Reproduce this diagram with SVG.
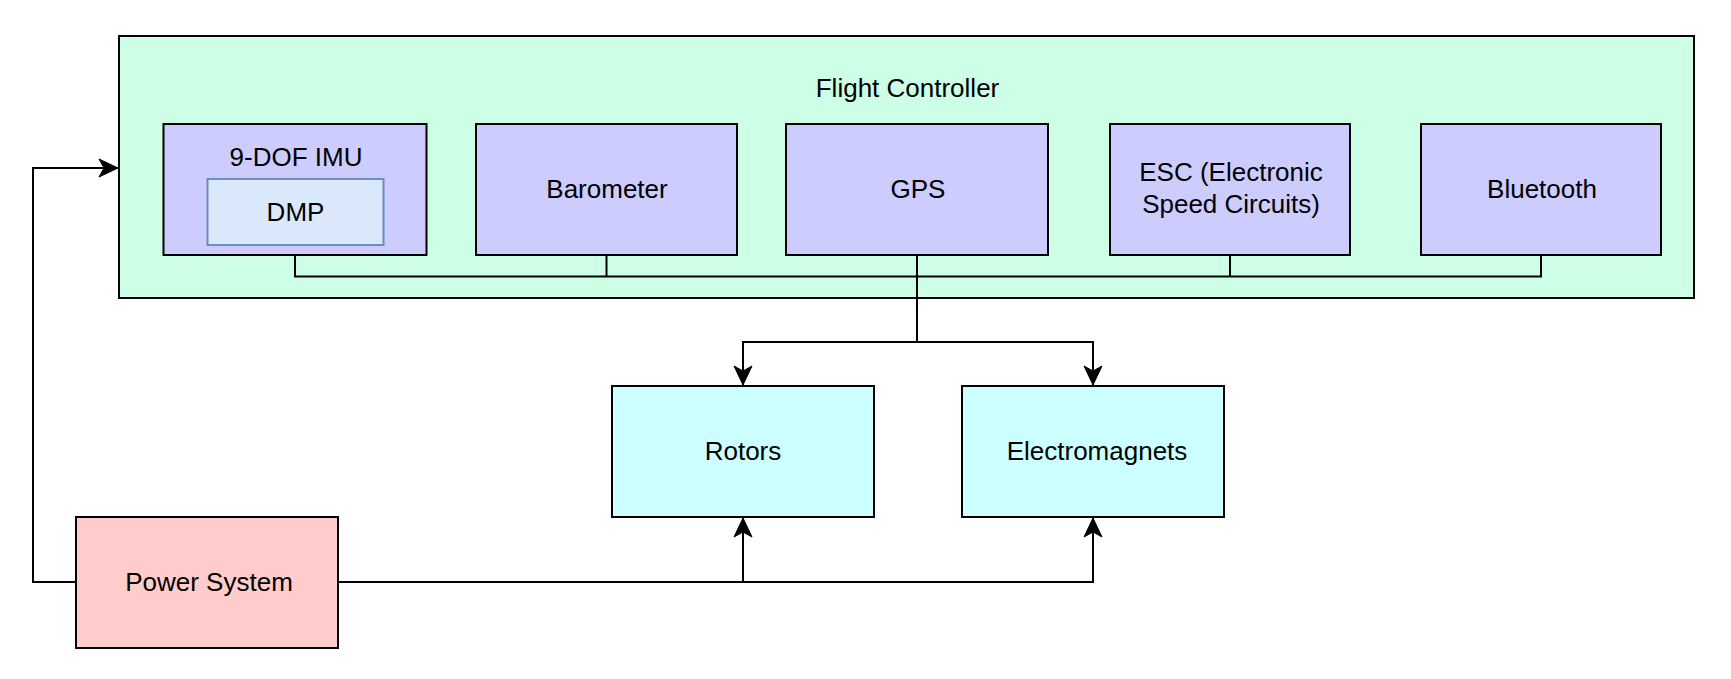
<svg xmlns="http://www.w3.org/2000/svg" width="1731" height="679" viewBox="0 0 1731 679">
<style>
  .box { stroke: #000; stroke-width: 2; }
  .fc { fill: #CCFFE6; }
  .sub { fill: #CCCCFF; }
  .dmp { fill: #DAE8FC; stroke: #6C8EBF; stroke-width: 2; }
  .out { fill: #CCFFFF; }
  .pwr { fill: #FFCCCC; }
  .lbl { font-family: "Liberation Sans", Arial, sans-serif; font-size: 26px; fill: #000; text-anchor: middle; }
  .conn { fill: none; stroke: #000; stroke-width: 2; }
</style>
<defs>
  <marker id="arrow" markerUnits="userSpaceOnUse" markerWidth="24" markerHeight="24" viewBox="-20 -12 24 24" refX="0" refY="0" orient="auto">
    <path d="M0,0 L-19,-9 L-14,0 L-19,9 Z" fill="#000" stroke="#000" stroke-width="1"/>
  </marker>
</defs>
<rect width="1731" height="679" fill="#fff"/>

<g id="flight-controller">
  <rect class="box fc" x="119" y="36" width="1575" height="262"/>
  <text class="lbl" x="907.5" y="97">Flight Controller</text>
</g>

<g id="imu">
  <rect class="box sub" x="163.5" y="124" width="263" height="131"/>
  <text class="lbl" x="296" y="165.5">9-DOF IMU</text>
</g>
<g id="dmp">
  <rect class="dmp" x="207.5" y="179" width="176" height="66"/>
  <text class="lbl" x="295.5" y="221">DMP</text>
</g>
<g id="barometer">
  <rect class="box sub" x="476" y="124" width="261" height="131"/>
  <text class="lbl" x="607" y="198">Barometer</text>
</g>
<g id="gps">
  <rect class="box sub" x="786" y="124" width="262" height="131"/>
  <text class="lbl" x="918" y="198">GPS</text>
</g>
<g id="esc">
  <rect class="box sub" x="1110" y="124" width="240" height="131"/>
  <text class="lbl" x="1231" y="181">ESC (Electronic</text>
  <text class="lbl" x="1231" y="212.5">Speed Circuits)</text>
</g>
<g id="bluetooth">
  <rect class="box sub" x="1421" y="124" width="240" height="131"/>
  <text class="lbl" x="1542" y="198">Bluetooth</text>
</g>
<g id="rotors">
  <rect class="box out" x="612" y="386" width="262" height="131"/>
  <text class="lbl" x="743" y="460">Rotors</text>
</g>
<g id="electromagnets">
  <rect class="box out" x="962" y="386" width="262" height="131"/>
  <text class="lbl" x="1097" y="460">Electromagnets</text>
</g>
<g id="power-system">
  <rect class="box pwr" x="76" y="517" width="262" height="131"/>
  <text class="lbl" x="209" y="591">Power System</text>
</g>

<g id="connectors">
  <!-- internal bus -->
  <polyline class="conn" points="295,255 295,276.5 1541,276.5 1541,255"/>
  <line class="conn" x1="606.5" y1="255" x2="606.5" y2="276.5"/>
  <line class="conn" x1="1230" y1="255" x2="1230" y2="276.5"/>
  <!-- GPS to outputs -->
  <polyline class="conn" points="917,255 917,342 743,342 743,385" marker-end="url(#arrow)"/>
  <polyline class="conn" points="917,342 1093,342 1093,385" marker-end="url(#arrow)"/>
  <!-- power -->
  <polyline class="conn" points="76,582 33,582 33,168 118,168" marker-end="url(#arrow)"/>
  <polyline class="conn" points="338,582 743,582 743,518" marker-end="url(#arrow)"/>
  <polyline class="conn" points="338,582 1093,582 1093,518" marker-end="url(#arrow)"/>
</g>
</svg>
